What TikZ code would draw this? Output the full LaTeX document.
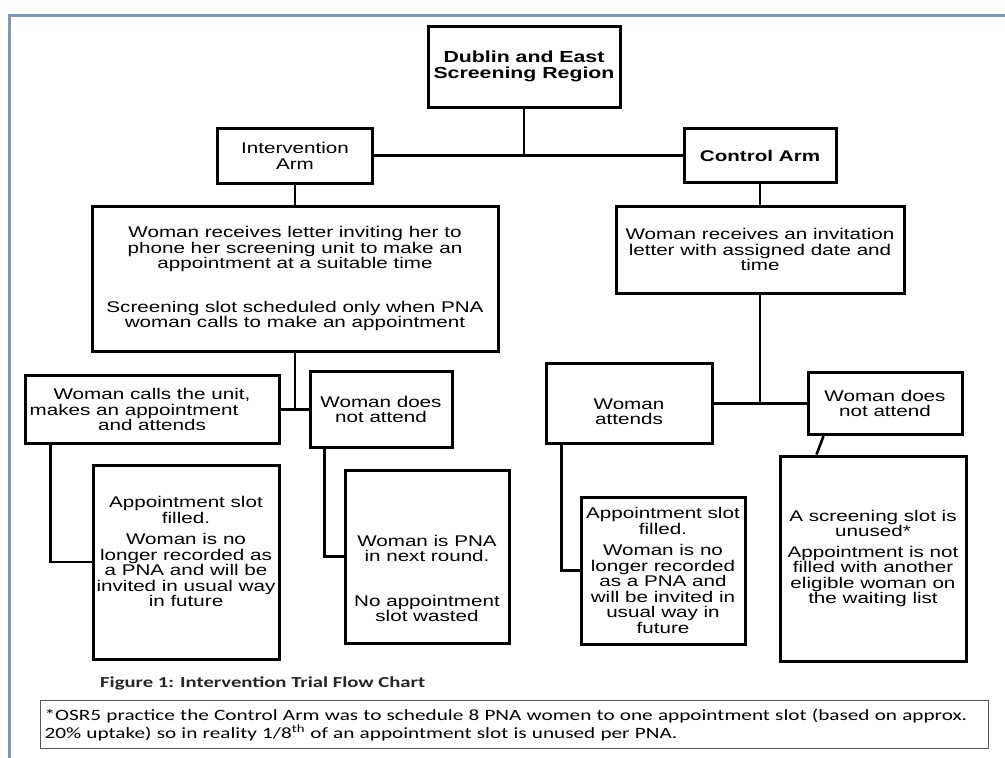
\documentclass[tikz,border=0pt]{standalone}
\usepackage{fontspec}
\setmainfont{Liberation Sans}[FakeStretch=1.33]
\newfontfamily\capfont{Carlito}[FakeStretch=1.35]
\usepackage{tikz}
\usetikzlibrary{calc}
\definecolor{framegrey}{RGB}{127,152,184}

\begin{document}
\begin{tikzpicture}[x=1pt,y=-1pt,
	box/.style={draw,line width=3pt,align=center,inner sep=0pt,font=\fontsize{15.5}{15.5}\selectfont},
	link/.style={line width=2.6pt}]
	\useasboundingbox (0,0) rectangle (1005,758);
	\draw[framegrey,line width=3pt] (9,758)--(9,15)--(1005,15);
	\node[box,minimum width=192pt,minimum height=81pt,font=\fontsize{16}{16}\selectfont\bfseries] (dublin) at (524,66.5) {Dublin and East\\Screening Region};
	\node[box,minimum width=155pt,minimum height=55pt,font=\fontsize{15.5}{16}\selectfont] (interv) at (295,155.5) {Intervention\\Arm};
	\node[box,minimum width=152pt,minimum height=54pt,font=\fontsize{15.5}{15.5}\selectfont\bfseries] (control) at (760,155.5) {Control Arm};
	\node[box,minimum width=406pt,minimum height=145pt] (letterL) at (295,278.5) {Woman receives letter inviting  her to\\phone her screening unit to make  an\\appointment at a suitable time\\[28pt]Screening slot scheduled only when PNA\\woman calls to make an appointment};
	\node[box,minimum width=288pt,minimum height=87pt] (letterR) at (760,249.5) {Woman receives an invitation\\letter with assigned date and\\time};
	\node[box,minimum width=254pt,minimum height=68pt] (calls) at (152,409.5) {Woman calls the unit,\\makes an appointment\rule{36pt}{0pt}\\and attends};
	\node[box,minimum width=142pt,minimum height=76pt] (notattL) at (381,409.5) {Woman does\\not attend};
	\node[box,minimum width=166pt,minimum height=80pt] (attends) at (629,403.5) {\rule{0pt}{27pt}Woman\\attends};
	\node[box,minimum width=154pt,minimum height=62pt] (notattR) at (885,403.5) {Woman does\\not attend};
	\node[box,minimum width=186pt,minimum height=194pt] (appL) at (186,562) {Appointment slot\\filled.\\[6pt]Woman is no\\longer recorded as\\a PNA and will be\\invited in usual way\\in future\rule[-21pt]{0pt}{21pt}};
	\node[box,minimum width=164pt,minimum height=173pt] (pna) at (427,556.5) {\rule{0pt}{55pt}Woman is PNA\\in next round.\\[29pt]No appointment\\slot wasted};
	\node[box,minimum width=164pt,minimum height=147pt] (appR) at (663,570.5) {Appointment slot\\filled.\\[6pt]Woman is no\\longer recorded\\as a PNA and\\will be invited in\\usual way in\\future};
	\node[box,minimum width=186pt,minimum height=205pt] (screen) at (873,558.5) {A screening slot is\\unused*\\[5pt]Appointment is not\\filled with another\\eligible  woman on\\the waiting list};
	\draw[link] (dublin.south)--(dublin.south |- interv.east);
	\draw[link] (interv.east)--(control.west);
	\draw[link] (interv.south)--(letterL.north);
	\draw[link] (control.south)--(letterR.north);
	\draw[link] (letterL.south)--(letterL.south |- calls.east);
	\draw[link] (calls.east)--(notattL.west);
	\draw[link] (letterR.south)--(letterR.south |- attends.east);
	\draw[link] (attends.east)--(notattR.west);
	\draw[link] (calls.south west) ++(27,0) |- (appL.west);
	\draw[link] (notattL.south west) ++(16,0) |- (pna.west);
	\draw[link] (attends.south west) ++(17,0) |- (appR.west);
	\draw[link] ($(notattR.south west)+(17,0)$)--($(screen.north west)+(38,0)$);
	\node[anchor=west,inner sep=0pt,text=black!85,font=\capfont\bfseries\fontsize{15.3}{15}\selectfont] (caption) at (100,683) {Figure 1: Intervention Trial Flow Chart};
	\node[draw=black!65,line width=1.2pt,anchor=north west,minimum width=948pt,minimum height=48pt,text width=940pt,inner xsep=3pt,inner ysep=0pt,align=left,font=\capfont\fontsize{15.7}{18}\selectfont] (note) at (40,700) {*OSR5 practice the Control Arm was to schedule 8 PNA women to one appointment slot (based on approx.\\20\% uptake) so in reality 1/8\textsuperscript{th} of an appointment slot is unused per PNA.};
\end{tikzpicture}
\end{document}
